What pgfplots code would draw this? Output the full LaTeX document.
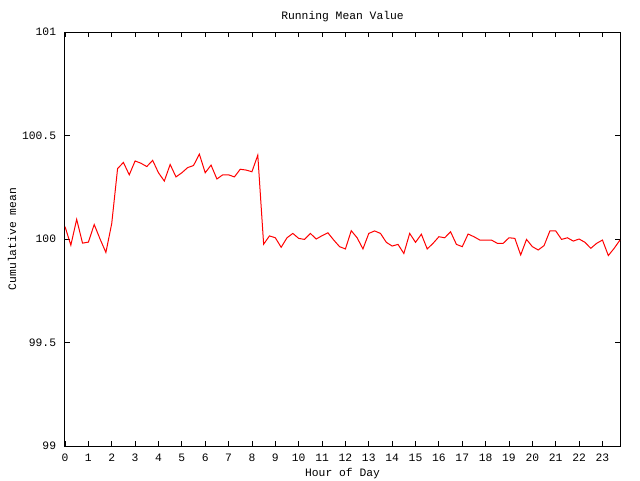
\documentclass[border=0pt]{standalone}
\usepackage{pgfplots}
\pgfplotsset{compat=1.18}
\usepackage{fontspec}
\setmainfont{Liberation Mono}
\begin{document}
\begin{tikzpicture}
\useasboundingbox (0pt,0pt) rectangle (480pt,360pt);
\begin{axis}[
  at={(48.75pt,25.5pt)}, anchor=south west,
  width=416.25pt, height=310.5pt, scale only axis,
  xmin=0, xmax=23.75, ymin=99, ymax=101,
  xtick={0,1,...,23},
  xticklabels={0,1,2,3,4,5,6,7,8,9,10,11,12,13,14,15,16,17,18,19,20,21,22,23},
  ytick={99,99.5,100,100.5,101},
  yticklabels={99,99.5,100,100.5,101},
  tick align=inside, major tick length=4pt,
  tick style={black, line width=0.6pt},
  axis line style={line width=0.75pt},
  ticklabel style={font=\fontsize{8.5}{10}\selectfont},
  xticklabel style={anchor=north, inner sep=0pt, yshift=-5.5pt},
  yticklabel style={anchor=east, inner sep=0pt, xshift=-6.5pt},
  /pgf/number format/assume math mode=true,
]
\addplot[red, line width=0.75pt, mark=none] coordinates {
(0,100.06) (0.25,99.97) (0.5,100.095) (0.75,99.98) (1,99.985) (1.25,100.07) (1.5,100.0) (1.75,99.935)
(2,100.075) (2.25,100.34) (2.5,100.37) (2.75,100.31) (3,100.377) (3.25,100.366) (3.5,100.35) (3.75,100.38)
(4,100.32) (4.25,100.28) (4.5,100.36) (4.75,100.30) (5,100.32) (5.25,100.345) (5.5,100.355) (5.75,100.41)
(6,100.32) (6.25,100.357) (6.5,100.29) (6.75,100.31) (7,100.31) (7.25,100.30) (7.5,100.337) (7.75,100.333)
(8,100.325) (8.25,100.405) (8.5,99.975) (8.75,100.015) (9,100.006) (9.25,99.96) (9.5,100.006) (9.75,100.027)
(10,100.003) (10.25,99.998) (10.5,100.027) (10.75,100.0) (11,100.016) (11.25,100.03) (11.5,99.995) (11.75,99.963)
(12,99.952) (12.25,100.04) (12.5,100.006) (12.75,99.952) (13,100.027) (13.25,100.039) (13.5,100.027) (13.75,99.984)
(14,99.966) (14.25,99.974) (14.5,99.93) (14.75,100.027) (15,99.984) (15.25,100.023) (15.5,99.952) (15.75,99.979)
(16,100.011) (16.25,100.006) (16.5,100.035) (16.75,99.974) (17,99.963) (17.25,100.024) (17.5,100.011) (17.75,99.995)
(18,99.995) (18.25,99.995) (18.5,99.979) (18.75,99.979) (19,100.006) (19.25,100.003) (19.5,99.923) (19.75,99.998)
(20,99.963) (20.25,99.947) (20.5,99.968) (20.75,100.039) (21,100.039) (21.25,99.998) (21.5,100.006) (21.75,99.99)
(22,100.0) (22.25,99.984) (22.5,99.955) (22.75,99.979) (23,99.995) (23.25,99.92) (23.5,99.955) (23.75,99.995)
};
\end{axis}
\node[font=\fontsize{8.5}{10}\selectfont] at (256.9pt,347.5pt) {Running Mean Value};
\node[font=\fontsize{8.5}{10}\selectfont] at (256.9pt,4.5pt) {Hour of Day};
\node[font=\fontsize{8.5}{10}\selectfont, rotate=90] at (9pt,180.75pt) {Cumulative mean};
\end{tikzpicture}
\end{document}
